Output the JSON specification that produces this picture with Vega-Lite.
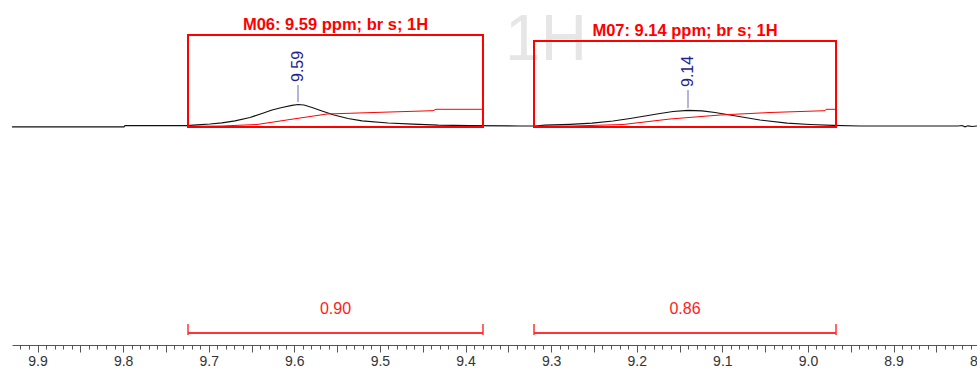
{
  "$schema": "https://vega.github.io/schema/vega-lite/v6.json",
  "width": 965,
  "height": 345,
  "autosize": {"type": "none"},
  "padding": {"left": 12, "top": 0, "right": 0, "bottom": 26},
  "background": "white",
  "config": {"view": {"stroke": null}, "font": "Liberation Sans"},
  "datasets": {
    "spectrum": [
      {"ppm": 9.9298, "I": -0.04}, {"ppm": 9.799, "I": -0.04}, {"ppm": 9.7978, "I": 0.02},
      {"ppm": 9.7254, "I": 0.02}, {"ppm": 9.7137, "I": 0.06}, {"ppm": 9.6985, "I": 0.1},
      {"ppm": 9.6845, "I": 0.16}, {"ppm": 9.6693, "I": 0.26}, {"ppm": 9.6518, "I": 0.425},
      {"ppm": 9.6377, "I": 0.625}, {"ppm": 9.6261, "I": 0.8}, {"ppm": 9.6144, "I": 0.925},
      {"ppm": 9.6027, "I": 1.035}, {"ppm": 9.5957, "I": 1.075}, {"ppm": 9.5887, "I": 1.05},
      {"ppm": 9.5793, "I": 0.925}, {"ppm": 9.5677, "I": 0.75}, {"ppm": 9.5536, "I": 0.55},
      {"ppm": 9.5373, "I": 0.375}, {"ppm": 9.5209, "I": 0.26}, {"ppm": 9.4905, "I": 0.15},
      {"ppm": 9.4613, "I": 0.09}, {"ppm": 9.4321, "I": 0.04}, {"ppm": 9.3948, "I": 0.015},
      {"ppm": 9.3363, "I": 0}, {"ppm": 9.3188, "I": 0}, {"ppm": 9.3071, "I": 0.04},
      {"ppm": 9.2779, "I": 0.085}, {"ppm": 9.2522, "I": 0.14}, {"ppm": 9.2277, "I": 0.25},
      {"ppm": 9.2078, "I": 0.375}, {"ppm": 9.1903, "I": 0.5}, {"ppm": 9.1728, "I": 0.625},
      {"ppm": 9.1576, "I": 0.725}, {"ppm": 9.1401, "I": 0.785}, {"ppm": 9.1237, "I": 0.76},
      {"ppm": 9.1085, "I": 0.675}, {"ppm": 9.091, "I": 0.55}, {"ppm": 9.0735, "I": 0.425},
      {"ppm": 9.056, "I": 0.3}, {"ppm": 9.0244, "I": 0.14}, {"ppm": 8.9976, "I": 0.075},
      {"ppm": 8.9707, "I": 0.03}, {"ppm": 8.9391, "I": 0}, {"ppm": 8.8247, "I": 0},
      {"ppm": 8.82, "I": 0.025}, {"ppm": 8.8165, "I": -0.04}, {"ppm": 8.813, "I": 0.01},
      {"ppm": 8.8083, "I": -0.025}, {"ppm": 8.8025, "I": 0}
    ],
    "integrals": [
      {"g": "M06", "ppm": 9.7242, "I": -0.015}, {"g": "M06", "ppm": 9.6845, "I": 0},
      {"g": "M06", "ppm": 9.6436, "I": 0.075}, {"g": "M06", "ppm": 9.605, "I": 0.325},
      {"g": "M06", "ppm": 9.5618, "I": 0.6}, {"g": "M06", "ppm": 9.4999, "I": 0.685},
      {"g": "M06", "ppm": 9.438, "I": 0.765}, {"g": "M06", "ppm": 9.4345, "I": 0.835},
      {"g": "M06", "ppm": 9.3807, "I": 0.835},
      {"g": "M07", "ppm": 9.3188, "I": -0.015}, {"g": "M07", "ppm": 9.2744, "I": 0},
      {"g": "M07", "ppm": 9.216, "I": 0.075}, {"g": "M07", "ppm": 9.1611, "I": 0.35},
      {"g": "M07", "ppm": 9.1027, "I": 0.55}, {"g": "M07", "ppm": 9.0443, "I": 0.675},
      {"g": "M07", "ppm": 8.98, "I": 0.765}, {"g": "M07", "ppm": 8.9788, "I": 0.835},
      {"g": "M07", "ppm": 8.9684, "I": 0.835}
    ],
    "multiplets": [
      {"a": 9.7242, "b": 9.3796, "m": 9.5519, "top": 4.55, "bottom": -0.05, "title": "M06: 9.59 ppm; br s; 1H", "area": "0.90"},
      {"a": 9.32, "b": 8.9672, "m": 9.1436, "top": 4.25, "bottom": -0.05, "title": "M07: 9.14 ppm; br s; 1H", "area": "0.86"}
    ],
    "peaks": [
      {"ppm": 9.5957, "lo": 1.2, "hi": 2.05, "txt": "9.59"},
      {"ppm": 9.1401, "lo": 0.9, "hi": 1.8, "txt": "9.14"}
    ],
    "nucleus": [{"ppm": 9.306, "I": 3.3, "txt": "1H"}]
  },
  "layer": [
    {
      "data": {"name": "nucleus"},
      "mark": {"type": "text", "fontSize": 64, "color": "#e6e6e6", "align": "center", "baseline": "alphabetic"},
      "encoding": {
        "x": {"field": "ppm", "type": "quantitative", "axis": null},
        "y": {"field": "I", "type": "quantitative", "axis": null},
        "text": {"field": "txt"}
      }
    },
    {
      "data": {"name": "spectrum"},
      "mark": {"type": "line", "color": "#111111", "strokeWidth": 1.2},
      "encoding": {
        "x": {"field": "ppm", "type": "quantitative",
          "scale": {"domain": [9.9298, 8.799], "range": [0, 968], "nice": false, "zero": false},
          "axis": {"orient": "bottom", "tickCount": 113, "tickSize": 4, "labels": false, "title": null, "grid": false, "domain": true, "domainColor": "#555555", "tickColor": "#555555"}},
        "y": {"field": "I", "type": "quantitative",
          "scale": {"domain": [-10.95, 6.3], "nice": false, "zero": false}, "axis": null},
        "order": {"field": "ppm", "sort": "descending"}
      }
    },
    {
      "data": {"name": "integrals"},
      "mark": {"type": "line", "color": "#ff0000", "strokeWidth": 1},
      "encoding": {
        "x": {"field": "ppm", "type": "quantitative",
          "axis": {"orient": "bottom", "tickCount": 23, "tickSize": 7, "title": null, "grid": false, "domain": false,
            "tickColor": "#555555", "labelFontSize": 14, "labelColor": "#333333", "labelPadding": 2,
            "labelFlush": false, "labelOverlap": false, "labelBound": false,
            "labelExpr": "round(datum.value * 100) % 10 === 0 ? format(datum.value, '.1f') : ''"}},
        "y": {"field": "I", "type": "quantitative", "axis": null},
        "detail": {"field": "g"},
        "order": {"field": "ppm", "sort": "descending"}
      }
    },
    {
      "data": {"name": "multiplets"},
      "mark": {"type": "rect", "filled": false, "color": "#ff0000", "strokeWidth": 2},
      "encoding": {
        "x": {"field": "a", "type": "quantitative", "axis": null},
        "x2": {"field": "b"},
        "y": {"field": "top", "type": "quantitative", "axis": null},
        "y2": {"field": "bottom"}
      }
    },
    {
      "data": {"name": "multiplets"},
      "mark": {"type": "text", "color": "#ff0000", "fontWeight": "bold", "fontSize": 16.5, "align": "center", "baseline": "alphabetic", "dy": -5},
      "encoding": {
        "x": {"field": "m", "type": "quantitative", "axis": null},
        "y": {"field": "top", "type": "quantitative", "axis": null},
        "text": {"field": "title"}
      }
    },
    {
      "data": {"name": "peaks"},
      "mark": {"type": "rule", "color": "#6a6ab4", "strokeWidth": 1},
      "encoding": {
        "x": {"field": "ppm", "type": "quantitative", "axis": null},
        "y": {"field": "lo", "type": "quantitative", "axis": null},
        "y2": {"field": "hi"}
      }
    },
    {
      "data": {"name": "peaks"},
      "mark": {"type": "text", "color": "#232390", "fontSize": 16, "angle": 270, "align": "left", "baseline": "middle", "dx": 3},
      "encoding": {
        "x": {"field": "ppm", "type": "quantitative", "axis": null},
        "y": {"field": "hi", "type": "quantitative", "axis": null},
        "text": {"field": "txt"}
      }
    },
    {
      "data": {"name": "multiplets"},
      "mark": {"type": "rule", "color": "#ff3333", "strokeWidth": 2},
      "encoding": {
        "x": {"field": "a", "type": "quantitative", "axis": null},
        "x2": {"field": "b"},
        "y": {"datum": -10.35, "type": "quantitative", "axis": null}
      }
    },
    {
      "data": {"name": "multiplets"},
      "mark": {"type": "rule", "color": "#ff3333", "strokeWidth": 1.5},
      "encoding": {
        "x": {"field": "a", "type": "quantitative", "axis": null},
        "y": {"datum": -9.9, "type": "quantitative", "axis": null},
        "y2": {"datum": -10.45}
      }
    },
    {
      "data": {"name": "multiplets"},
      "mark": {"type": "rule", "color": "#ff3333", "strokeWidth": 1.5},
      "encoding": {
        "x": {"field": "b", "type": "quantitative", "axis": null},
        "y": {"datum": -9.9, "type": "quantitative", "axis": null},
        "y2": {"datum": -10.45}
      }
    },
    {
      "data": {"name": "multiplets"},
      "mark": {"type": "text", "color": "#ff2020", "fontSize": 16, "align": "center", "baseline": "middle"},
      "encoding": {
        "x": {"field": "m", "type": "quantitative", "axis": null},
        "y": {"datum": -9.15, "type": "quantitative", "axis": null},
        "text": {"field": "area"}
      }
    }
  ],
  "resolve": {"axis": {"x": "independent"}}
}
